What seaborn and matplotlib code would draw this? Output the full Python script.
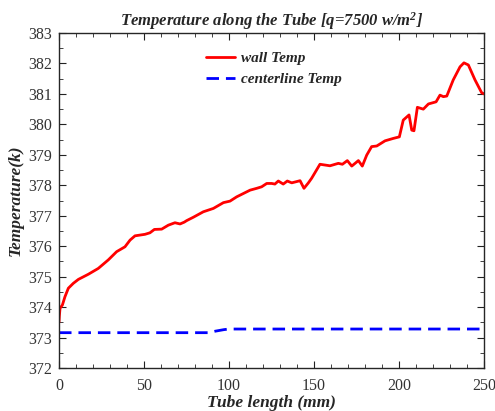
import numpy as np
import pandas as pd
import matplotlib
matplotlib.use("Agg")
import matplotlib.pyplot as plt
import seaborn as sns
from matplotlib.ticker import MultipleLocator

# wall temperature
wall_x = [0.0, 0.2, 0.6, 2.0, 3.5, 5.5, 8.4, 11.4, 17.3, 23.1, 29.0, 33.9, 38.8, 41.8, 44.7,
          50.6, 53.5, 56.1, 60.4, 64.3, 68.2, 71.2, 73.7, 75.1, 79.0, 84.9, 90.8, 96.7,
          100.6, 104.5, 112.4, 116.3, 119.2, 122.2, 125.1, 127.0, 129.0, 131.9, 134.3,
          136.9, 141.8, 144.1, 146.7, 148.6, 153.5, 159.4, 164.3, 166.7, 169.6, 172.2,
          176.1, 178.4, 181.0, 183.9, 186.9, 191.8, 196.7, 200.2, 202.5, 205.9, 207.5,
          208.8, 210.8, 214.3, 217.3, 221.8, 224.1, 226.1, 228.1, 231.9, 235.9, 238.2,
          240.8, 244.7, 248.6, 250.0]
wall_T = [373.50, 373.70, 373.96, 374.07, 374.34, 374.62, 374.78, 374.91, 375.08, 375.27, 375.55,
          375.82, 375.98, 376.20, 376.34, 376.39, 376.44, 376.55, 376.56, 376.69, 376.77,
          376.73, 376.79, 376.84, 376.95, 377.13, 377.24, 377.43, 377.48, 377.62, 377.84,
          377.90, 377.95, 378.06, 378.06, 378.04, 378.14, 378.04, 378.14, 378.08, 378.15,
          377.90, 378.08, 378.23, 378.69, 378.64, 378.72, 378.69, 378.81, 378.63, 378.81,
          378.63, 378.99, 379.27, 379.29, 379.46, 379.54, 379.59, 380.14, 380.31, 379.81,
          379.79, 380.56, 380.50, 380.67, 380.74, 380.96, 380.91, 380.93, 381.46, 381.89,
          382.02, 381.95, 381.46, 381.04, 381.00]

# centerline temperature
center_x = [0, 88, 92, 97, 100, 250]
center_T = [373.16, 373.16, 373.21, 373.26, 373.28, 373.28]

df_wall = pd.DataFrame({"x": wall_x, "T": wall_T})
df_center = pd.DataFrame({"x": center_x, "T": center_T})

sns.set_style("ticks")
plt.rcParams["font.family"] = ["Liberation Serif", "DejaVu Serif"]
plt.rcParams["mathtext.fontset"] = "custom"
plt.rcParams["mathtext.it"] = "Liberation Serif:bold:italic"
plt.rcParams["mathtext.rm"] = "Liberation Serif:bold:italic"

fig = plt.figure(figsize=(4.95, 4.11), dpi=100)
ax = fig.add_axes([0.1192, 0.1046, 0.8586, 0.8151])

sns.lineplot(data=df_wall, x="x", y="T", ax=ax, color="#ff0000", lw=2.0,
             label="wall Temp", sort=False)
sns.lineplot(data=df_center, x="x", y="T", ax=ax, color="#0000ff", lw=2.0,
             label="centerline Temp", sort=False, dashes=False)
ax.lines[1].set_dashes([4.5, 2.5])

ax.set_xlim(0, 250)
ax.set_ylim(372, 383)
ax.xaxis.set_major_locator(MultipleLocator(50))
ax.xaxis.set_minor_locator(MultipleLocator(10))
ax.yaxis.set_major_locator(MultipleLocator(1))
ax.yaxis.set_minor_locator(MultipleLocator(0.5))
ax.tick_params(which="both", direction="in", top=True, right=True, labelsize=11.5,
               colors="#222222", labelcolor="#333333")
ax.tick_params(axis="x", which="major", pad=7)
ax.tick_params(axis="y", which="major", pad=5)
ax.tick_params(which="major", length=5)
ax.tick_params(which="minor", length=3)
for s in ax.spines.values():
    s.set_linewidth(1.0)

bi = dict(fontweight="bold", fontstyle="italic")
ax.set_title(r"Temperature along the Tube [q=7500 w/m$^2$]", fontsize=12, pad=5, **bi)
ax.set_xlabel("Tube length (mm)", fontsize=12.5, labelpad=1, **bi)
ax.set_ylabel("Temperature(k)", fontsize=12.5, labelpad=3, **bi)

leg = ax.legend(loc="upper center", bbox_to_anchor=(0.505, 0.985), frameon=False,
                prop=dict(family="Liberation Serif", weight="bold", style="italic", size=11),
                handlelength=1.9, handletextpad=0.4, labelspacing=0.45)

fig.savefig("out.png", dpi=100)
